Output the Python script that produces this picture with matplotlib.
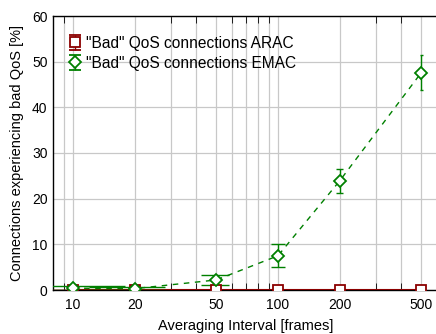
import numpy as np
import matplotlib
matplotlib.use('Agg')
from matplotlib import pyplot as plt
from matplotlib.ticker import FixedLocator, NullFormatter

plt.rcParams['font.family'] = ['Liberation Sans', 'DejaVu Sans']

# data
intervals = [10, 20, 50, 100, 200, 500]
arac = [0, 0, 0, 0, 0, 0]
arac_err = [0, 0, 0, 0, 0, 0]
emac = [0.4, 0.3, 2.2, 7.5, 23.9, 47.6]
emac_err = [0.5, 0.4, 1.0, 2.5, 2.7, 3.8]
cap_halfwidth = 8  # caps drawn in data units (frames)

tick_labels = ['10', '20', '50', '100', '200', '500']
minor_ticks = [9, 30, 40, 60, 70, 80, 90, 300, 400]

red = '#8b0000'
green = '#008000'

fig = plt.figure(figsize=(4.36, 3.34), dpi=100)
ax = fig.add_axes([53.1 / 436, 44 / 334, (437.5 - 53.1) / 436, 274 / 334])

ax.set_xscale('log')
ax.set_xlim(8, 600)
ax.set_ylim(0, 60)

# connecting lines
ax.plot(intervals, arac, '-', color=red, lw=1.5, zorder=3)
ax.plot(intervals, emac, '--', color=green, lw=1, dashes=(4, 4), zorder=3)

# error bars with caps in data units
x = np.array(intervals, dtype=float)
for vals, errs, col in [(arac, arac_err, red), (emac, emac_err, green)]:
    v = np.array(vals)
    e = np.array(errs)
    ax.hlines(v + e, x - cap_halfwidth, x + cap_halfwidth, color=col, lw=1, zorder=4)
    ax.hlines(v - e, x - cap_halfwidth, x + cap_halfwidth, color=col, lw=1, zorder=4)

eb1 = ax.errorbar(intervals, arac, yerr=arac_err, fmt='s', color=red, mfc='white', mec=red,
                  ms=7, mew=1.3, capsize=4.5, elinewidth=1, label='"Bad" QoS connections ARAC', zorder=5)
eb2 = ax.errorbar(intervals, emac, yerr=emac_err, fmt='D', color=green, mfc='white', mec=green,
                  ms=6, mew=1.3, capsize=4.5, elinewidth=1, label='"Bad" QoS connections EMAC', zorder=5)

ax.xaxis.set_major_locator(FixedLocator(intervals))
ax.set_xticklabels(tick_labels)
ax.xaxis.set_minor_locator(FixedLocator(minor_ticks))
ax.xaxis.set_minor_formatter(NullFormatter())
ax.set_yticks(range(0, 61, 10))

ax.grid(True, which='both', color='#c8c8c8', lw=0.9)
ax.set_axisbelow(True)
ax.tick_params(axis='x', which='major', length=0, labelsize=10, pad=6)
ax.tick_params(axis='x', which='minor', direction='in', length=5, top=True, color='black')
ax.tick_params(axis='y', direction='in', length=0, labelsize=10, pad=4)
for s in ['left', 'top', 'bottom']:
    ax.spines[s].set_linewidth(1)
ax.spines['right'].set_visible(False)

ax.set_xlabel('Averaging Interval [frames]', fontsize=10.5, labelpad=5)
ax.set_ylabel('Connections experiencing bad QoS [%]', fontsize=10.5, labelpad=6)

ax.legend(loc='upper left', bbox_to_anchor=(0.02, 0.95), frameon=False, fontsize=11.2,
          handlelength=1.0, handletextpad=0.25, borderaxespad=0, labelspacing=0.32)

# the plotted points use the data-unit caps above; keep point-sized caps only in the legend
for eb in (eb1, eb2):
    for cap in eb[1]:
        cap.set_visible(False)

plt.savefig('out.png', dpi=100)
